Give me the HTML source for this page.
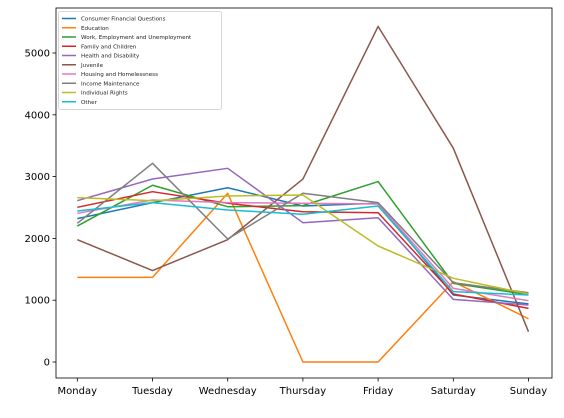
<!DOCTYPE html>
<html><head><meta charset="utf-8"><style>
body{margin:0;background:#fff;width:564px;height:413px;overflow:hidden}
text{font-family:"DejaVu Sans","Liberation Sans",sans-serif}
</style></head><body>
<svg id="chart" width="564" height="413" xmlns="http://www.w3.org/2000/svg"></svg>
<script>
const days = ["Monday","Tuesday","Wednesday","Thursday","Friday","Saturday","Sunday"];
const seriesNames = ["Consumer Financial Questions","Education","Work, Employment and Unemployment","Family and Children","Health and Disability","Juvenile","Housing and Homelessness","Income Maintenance","Individual Rights","Other"];
const colors = ["#1f77b4","#ff7f0e","#2ca02c","#d62728","#9467bd","#8c564b","#e377c2","#7f7f7f","#bcbd22","#17becf"];
const consumer = [2320,2578,2820,2524,2568,1084,940];
const education = [1370,1370,2730,0,0,1300,700];
const work = [2200,2860,2513,2530,2920,1273,1090];
const family = [2503,2756,2568,2432,2416,1100,868];
const health = [2610,2961,3134,2254,2335,1014,922];
const juvenile = [1980,1480,1980,2960,5430,3460,490];
const housing = [2406,2621,2578,2568,2556,1192,992];
const income = [2244,3215,1990,2730,2578,1283,1121];
const rights = [2659,2610,2686,2702,1877,1354,1100];
const other = [2443,2578,2460,2390,2524,1138,1084];
const allSeries = [consumer,education,work,family,health,juvenile,housing,income,rights,other];
const yTicks = [0,1000,2000,3000,4000,5000];

const svg = document.getElementById('chart');
const NS = "http://www.w3.org/2000/svg";
const L=56, R=552, T=8, B=378;
const xS = i => 77.3 + i*75.2;
const yS = v => 362 - v*0.0618;
function mk(tag, attrs, parent){const e=document.createElementNS(NS,tag);for(const k in attrs)e.setAttribute(k,attrs[k]);(parent||svg).appendChild(e);return e;}

const frame = mk('rect',{x:L,y:T,width:R-L,height:B-T,fill:'none',stroke:'#000','stroke-width':0.8});



yTicks.forEach(v=>{
  const y=yS(v);
  const t=mk('line',{x1:L-3.5,x2:L,y1:y,y2:y,stroke:'#000','stroke-width':0.8});
  
  
  const l=mk('text',{x:L-6,y:y+3.5,'text-anchor':'end','font-size':10});
  l.textContent=v;
  
  
});
days.forEach((d,i)=>{
  const x=xS(i);
  const t=mk('line',{x1:x,x2:x,y1:B,y2:B+3.5,stroke:'#000','stroke-width':0.8});
  
  
  const l=mk('text',{x:x,y:B+16,'text-anchor':'middle','font-size':10});
  l.textContent=d;
  
  
});
allSeries.forEach((s,k)=>{
  const p=mk('polyline',{points:s.map((v,i)=>xS(i)+','+yS(v)).join(' '),fill:'none',stroke:colors[k],'stroke-width':1.5,'stroke-linejoin':'round'});
  
  
});
const lg=mk('g',{});


const box=mk('rect',{x:58.5,y:11.5,width:163,height:98,fill:'#fff',stroke:'#ccc','stroke-width':0.8,rx:2},lg);


seriesNames.forEach((n,k)=>{
  const y=18.5+k*9.25;
  const ln=mk('line',{x1:62,x2:76,y1:y,y2:y,stroke:colors[k],'stroke-width':1.5},lg);
  
  
  const t=mk('text',{x:81,y:y+2,'font-size':5.6,fill:'#222'},lg);
  t.textContent=n;
  
  
});
</script>
</body></html>
